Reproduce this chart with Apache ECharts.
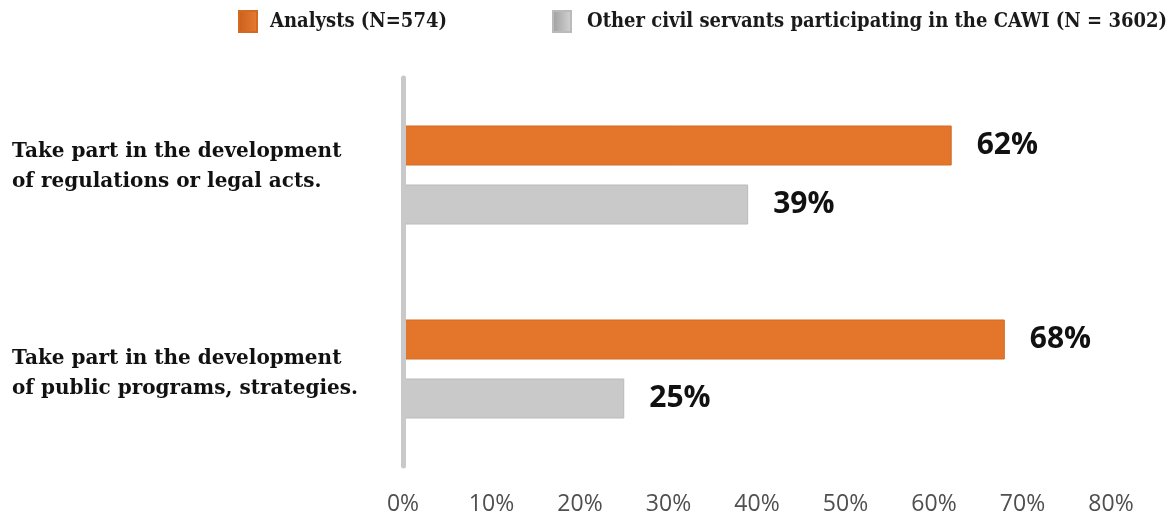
<!DOCTYPE html>
<html>
<head>
<meta charset="utf-8">
<script src="https://cdn.jsdelivr.net/npm/echarts@6/dist/echarts.min.js"></script>
<style>
  html, body { margin: 0; padding: 0; background: #ffffff; }
  #chart { width: 1176px; height: 518px; }
</style>
</head>
<body>
<div id="chart"></div>
<script>
// Survey question categories (top to bottom), each split over two lines
const categories = [
  ['Take part in the development', 'of regulations or legal acts.'],
  ['Take part in the development', 'of public programs, strategies.']
];
const seriesNames = ['Analysts (N=574)', 'Other civil servants participating in the CAWI (N = 3602)'];
const analysts = [62, 68];
const otherServants = [39, 25];
const tickValues = [0, 10, 20, 30, 40, 50, 60, 70, 80];

const chart = echarts.init(document.getElementById('chart'));

const valueLabel = {
  show: true,
  position: 'right',
  distance: 25,
  formatter: p => p.value + '%',
  fontFamily: 'Open Sans',
  fontWeight: 'bold',
  fontSize: 30,
  color: '#111111'
};

const legendText = {
  fontFamily: 'DejaVu Serif Condensed, DejaVu Serif',
  fontWeight: 'bold',
  fontSize: 20,
  color: '#1a1a1a'
};

const serifLine = {
  fontFamily: 'DejaVu Serif',
  fontWeight: 'bold',
  fontSize: 20,
  height: 30,
  color: '#111111'
};

const orangeGrad = new echarts.graphic.LinearGradient(0, 0, 1, 0, [
  { offset: 0, color: '#c85f1c' },
  { offset: 1, color: '#e77d33' }
]);
const grayGrad = new echarts.graphic.LinearGradient(0, 0, 1, 0, [
  { offset: 0, color: '#9e9e9e' },
  { offset: 1, color: '#d4d4d4' }
]);

chart.setOption({
  animation: false,
  legend: [
    {
      top: 10,
      left: 238,
      padding: 0,
      itemWidth: 18,
      itemHeight: 21,
      icon: 'rect',
      textStyle: Object.assign({ padding: [0, 0, 0, 8] }, legendText),
      data: [{ name: seriesNames[0], itemStyle: { color: orangeGrad } }]
    },
    {
      top: 10,
      left: 552,
      padding: 0,
      itemWidth: 18,
      itemHeight: 21,
      icon: 'rect',
      textStyle: Object.assign({ padding: [0, 0, 0, 11] }, legendText),
      data: [{ name: seriesNames[1], itemStyle: { color: grayGrad } }]
    }
  ],
  grid: {
    left: 403,
    right: 65,
    top: 78,
    bottom: 52,
    containLabel: false,
    outerBoundsMode: 'none'
  },
  xAxis: {
    type: 'value',
    min: 0,
    max: 80,
    interval: 10,
    axisLine: { show: false },
    axisTick: { show: false },
    splitLine: { show: false },
    axisLabel: {
      formatter: v => tickValues.includes(v) ? v + '%' : '',
      fontFamily: 'Open Sans',
      fontSize: 23,
      color: '#4f4f4f',
      margin: 27
    }
  },
  yAxis: {
    type: 'category',
    inverse: true,
    z: 3,
    data: categories.map(c => c.join(' ')),
    axisLine: { show: true, lineStyle: { color: '#c9c9c9', width: 5 } },
    axisTick: { show: false },
    axisLabel: {
      align: 'left',
      margin: 391,
      fontFamily: 'DejaVu Serif',
      fontWeight: 'bold',
      fontSize: 20,
      color: '#111111',
      // first block sits a little above its bars, second a little below
      formatter: (v, i) => {
        const lines = categories[i];
        return i === 0
          ? '{l|' + lines[0] + '}\n{lb|' + lines[1] + '}'
          : '{lt|' + lines[0] + '}\n{l|' + lines[1] + '}';
      },
      rich: {
        l: serifLine,
        lb: Object.assign({ padding: [0, 0, 16, 0] }, serifLine),
        lt: Object.assign({ padding: [10, 0, 0, 0] }, serifLine)
      }
    }
  },
  series: [
    {
      name: seriesNames[0],
      type: 'bar',
      data: analysts,
      barWidth: 40,
      barGap: '47.5%',
      itemStyle: {
        color: '#e3762b',
        borderColor: '#d36a22',
        borderWidth: 1
      },
      label: valueLabel
    },
    {
      name: seriesNames[1],
      type: 'bar',
      data: otherServants,
      barWidth: 40,
      itemStyle: {
        color: '#c9c9c9',
        borderColor: '#bababa',
        borderWidth: 1
      },
      label: valueLabel
    }
  ]
});
</script>
</body>
</html>
